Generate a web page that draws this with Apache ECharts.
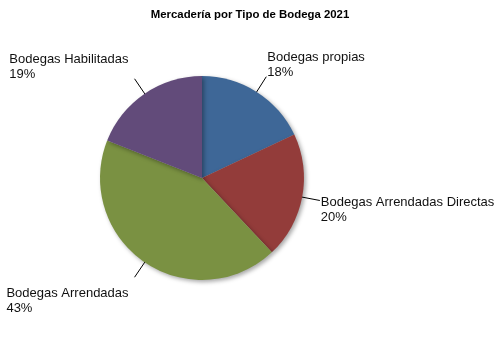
<!DOCTYPE html>
<html>
<head>
<meta charset="utf-8">
<script src="https://cdn.jsdelivr.net/npm/echarts@6/dist/echarts.min.js"></script>
<style>html,body{margin:0;padding:0;background:#fff}#c{width:500px;height:350px}</style>
</head>
<body>
<div id="c"></div>
<script>
var titleText = 'Mercadería por Tipo de Bodega 2021';
var categories = ['Bodegas propias', 'Bodegas Arrendadas Directas', 'Bodegas Arrendadas', 'Bodegas Habilitadas'];
var values = [18, 20, 43, 19];
var colors = ['#3E6797', '#933C3A', '#7A9142', '#624B7A'];

var chart = echarts.init(document.getElementById('c'), null, {renderer: 'canvas'});
var data = categories.map(function (c, i) {
  return {name: c, value: values[i], itemStyle: {color: colors[i]}};
});
chart.setOption({
  animation: false,
  title: {
    text: titleText, left: 'center', top: 4,
    textStyle: {fontFamily: 'Liberation Sans, Arial, sans-serif', fontSize: 11.4, fontWeight: 'bold', color: '#000'}
  },
  series: [{
    type: 'pie',
    center: [202, 178],
    radius: 102,
    startAngle: 90,
    clockwise: true,
    avoidLabelOverlap: false,
    itemStyle: {borderWidth: 0, shadowBlur: 4, shadowOffsetX: 2, shadowOffsetY: 2, shadowColor: 'rgba(0,0,0,0.35)'},
    emphasis: {disabled: true},
    label: {
      show: true, position: 'outside',
      formatter: '{b}\n{d}%',
      fontFamily: 'Liberation Sans, Arial, sans-serif', fontSize: 13, lineHeight: 15, color: '#111'
    },
    labelLine: {show: true, length: 18, length2: 0, smooth: false, lineStyle: {color: '#000', width: 1}},
    labelLayout: function (p) {
      var pts = p.labelLinePoints;
      if (!pts) return {};
      var a = pts[0], b = pts[1];
      var dx = b[0] - a[0], dy = b[1] - a[1];
      var L = Math.sqrt(dx * dx + dy * dy) || 1;
      dx /= L; dy /= L;
      var s = [a[0] - dx * 4, a[1] - dy * 4];
      var e = [b[0], b[1]];
      var w = p.labelRect.width;
      var va = dy < -0.5 ? 'bottom' : (dy > 0.5 ? 'top' : 'middle');
      var x = dx >= 0 ? e[0] + 1 : e[0] - 6 - w;
      var oy = va === 'bottom' ? 3 : (va === 'top' ? 9 : 9.5);
      return {
        x: x, y: e[1] + oy, align: 'left', verticalAlign: va,
        labelLinePoints: [s, e, e]
      };
    },
    data: data
  }]
});
</script>
</body>
</html>
